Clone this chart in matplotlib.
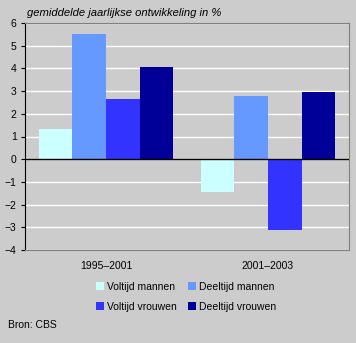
import numpy as np
import matplotlib
matplotlib.use("Agg")
import matplotlib.pyplot as plt

plt.rcParams['font.family'] = ['Liberation Sans', 'DejaVu Sans']

periods = ["1995\u20132001", "2001\u20132003"]
series = ["Voltijd mannen", "Deeltijd mannen", "Voltijd vrouwen", "Deeltijd vrouwen"]
voltijd_mannen = [1.33, -1.43]
deeltijd_mannen = [5.52, 2.79]
voltijd_vrouwen = [2.66, -3.1]
deeltijd_vrouwen = [4.06, 2.96]
colors = ["#CCFFFF", "#6699FF", "#3333FF", "#000099"]

values = [voltijd_mannen, deeltijd_mannen, voltijd_vrouwen, deeltijd_vrouwen]

W, H = 356, 343
fig = plt.figure(figsize=(W / 100, H / 100), dpi=100, facecolor="#CCCCCC")
ax = fig.add_axes([25 / W, (H - 250) / H, 324 / W, 227 / H], facecolor="#CCCCCC")

x = np.arange(len(periods))
bw = 0.2083
handles = []
for i, (name, vals, c) in enumerate(zip(series, values, colors)):
    b = ax.bar(x + (i - 1.5) * bw, vals, width=bw, color=c, label=name, zorder=3)
    handles.append(b)

ax.set_xlim(-0.5, 1.5)
ax.set_ylim(-4, 6)
ax.set_yticks(range(-4, 7))
ax.yaxis.grid(True, color="white", linewidth=1, zorder=0)
ax.axhline(0, color="black", linewidth=1, zorder=4)
ax.set_xticks(x)
ax.set_xticklabels(periods, fontsize=7.5)
ax.tick_params(axis="x", length=0, pad=8)
ax.tick_params(axis="y", length=3, width=0.8, labelsize=7.5, pad=3)
for s in ["top", "right", "bottom"]:
    ax.spines[s].set_color("#808080")
ax.spines["left"].set_color("black")

fig.text(27 / W, 1 - 13 / H, "gemiddelde jaarlijkse ontwikkeling in %", fontsize=8.1,
         style="italic", va="center", ha="left")
fig.text(8 / W, 1 - 325 / H, "Bron: CBS", fontsize=7.5, va="center", ha="left")

order = [0, 2, 1, 3]
fig.legend([handles[i] for i in order], [series[i] for i in order], ncol=2,
           loc="center", bbox_to_anchor=(186 / W, 1 - 297 / H), frameon=False,
           fontsize=7.5, handlelength=0.8, handleheight=0.8, handletextpad=0.3,
           columnspacing=1.0, labelspacing=0.95, borderpad=0)

fig.savefig("out.png", dpi=100, facecolor=fig.get_facecolor())
